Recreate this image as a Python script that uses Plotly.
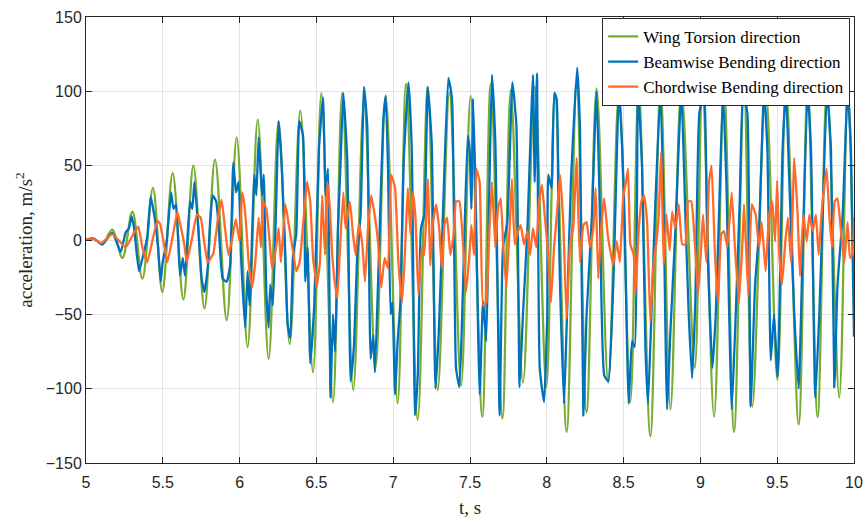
import plotly.graph_objects as go

# ---------------- data ----------------
torsion_t = [5.0, 5.05, 5.106, 5.171, 5.237, 5.302, 5.367, 5.436, 5.497, 5.564, 5.634, 5.699, 5.771,
             5.840, 5.916, 5.981, 6.052, 6.118, 6.189, 6.254, 6.326, 6.395, 6.478, 6.532, 6.608,
             6.668, 6.740, 6.810, 6.885, 6.951, 7.029, 7.084, 7.160, 7.225, 7.290, 7.366, 7.442,
             7.504, 7.580, 7.635, 7.711, 7.765, 7.845, 7.921, 7.997, 8.053, 8.129, 8.194, 8.259,
             8.324, 8.400, 8.470, 8.544, 8.598, 8.674, 8.740, 8.805, 8.876, 8.963, 9.013, 9.089,
             9.154, 9.219, 9.284, 9.338, 9.425, 9.501, 9.557, 9.640, 9.698, 9.763, 9.824, 9.904,
             9.959, 10.0]
torsion_v = [0, 1, -3, 7, -12, 19, -26, 35, -35, 45, -40, 50, -46,
             54, -54, 69, -72, 81, -80, 80, -70, 87, -89, 99, -109,
             99, -101, 93, -86, 97, -110, 105, -121, 103, -101, 99, -98,
             97, -119, 105, -120, 101, -96, 103, -99, 99, -129, 106, -116,
             102, -96, 100, -109, 102, -132, 103, -114, 102, -86, 103, -119,
             102, -129, 103, -112, 102, -94, 103, -124, 102, -119, 103, -106,
             102, -45]

beam_t = [5.0, 5.05, 5.106, 5.171, 5.226, 5.258, 5.28, 5.297, 5.313, 5.345, 5.373, 5.399, 5.421,
          5.447, 5.469, 5.486, 5.499, 5.525, 5.554, 5.569, 5.586, 5.612, 5.630, 5.645, 5.677,
          5.692, 5.706, 5.732, 5.753, 5.771, 5.792, 5.808, 5.825, 5.847, 5.862, 5.890, 5.916,
          5.938, 5.959, 5.977, 5.994, 6.009, 6.037, 6.052, 6.065, 6.096, 6.109, 6.124, 6.146,
          6.157, 6.174, 6.189, 6.200, 6.217, 6.239, 6.254, 6.276, 6.298, 6.313, 6.330, 6.348,
          6.369, 6.389, 6.413, 6.428, 6.443, 6.460, 6.486, 6.517, 6.543, 6.560, 6.575, 6.592,
          6.608, 6.622, 6.640, 6.658, 6.675, 6.701, 6.723, 6.744, 6.766, 6.788, 6.810, 6.831,
          6.853, 6.870, 6.881, 6.907, 6.935, 6.951, 6.966, 6.983, 6.995, 7.012, 7.029, 7.047,
          7.068, 7.099, 7.121, 7.142, 7.160, 7.181, 7.203, 7.225, 7.251, 7.275, 7.296, 7.322,
          7.359, 7.383, 7.409, 7.431, 7.453, 7.485, 7.498, 7.509, 7.520, 7.535, 7.563, 7.585,
          7.606, 7.628, 7.643, 7.665, 7.693, 7.715, 7.743, 7.776, 7.802, 7.823, 7.845, 7.873,
          7.910, 7.921, 7.936, 7.954, 7.982, 8.003, 8.010, 8.031, 8.049, 8.064, 8.075, 8.086,
          8.112, 8.129, 8.157, 8.198, 8.216, 8.238, 8.259, 8.292, 8.324, 8.346, 8.374, 8.400,
          8.433, 8.470, 8.491, 8.505, 8.533, 8.555, 8.572, 8.594, 8.620, 8.642, 8.659, 8.681,
          8.707, 8.740, 8.761, 8.783, 8.805, 8.837, 8.876, 8.902, 8.924, 8.946, 8.967, 8.993,
          9.024, 9.045, 9.078, 9.100, 9.121, 9.147, 9.169, 9.204, 9.230, 9.256, 9.277, 9.306,
          9.327, 9.356, 9.382, 9.414, 9.436, 9.458, 9.479, 9.503, 9.535, 9.557, 9.579, 9.611,
          9.640, 9.666, 9.698, 9.720, 9.748, 9.774, 9.796, 9.824, 9.850, 9.872, 9.893, 9.926,
          9.959, 9.980, 10.0]
beam_v = [0, 1, -3, 5, -8, 5, 8, 16, 8, -21, -10, 2, 29,
          15, -5, -28, -15, -1, 32, 21, 24, -24, -12, -24, 26,
          21, 39, 6, -26, -35, -19, 12, 30, 26, 12, -26, -28,
          -17, 52, 32, 39, -10, -59, -21, -44, 44, 30, 69, 30,
          44, -35, -59, -30, -44, 28, 80, 46, -10, -57, -66, -10,
          4, 80, 70, -28, -5, -83, -44, 62, 96, 30, 48, -106,
          -50, -75, 6, 54, 99, 54, -95, -72, -10, 17, 103, 77,
          -80, -64, -89, -10, 80, 97, 50, -50, -42, -104, -68, -41,
          52, 106, 61, -118, -91, 8, 17, 103, 65, -100, -64, 12,
          109, 95, -86, -99, -37, 70, 60, 21, 95, 39, -104, -41,
          -68, 46, 111, 65, -118, -5, 12, 106, 77, -99, -50, 6,
          111, 39, 112, -86, -109, -50, 44, 35, 99, 95, 26, -30,
          -110, -59, 39, 116, 75, -118, -50, 12, 100, 17, -91, -95,
          -30, 100, 61, 20, -110, -68, -72, 100, 50, -72, -110, -50,
          26, 100, 17, -114, -61, 6, 100, 17, -50, -93, -41, 85,
          100, 0, -86, -50, 17, 100, 39, -114, -50, 26, 100, 85,
          -112, -30, 6, 100, 61, -81, -50, -92, 61, 100, 39, -50,
          -100, -5, 100, 61, -106, -50, 17, 100, 61, -99, -30, 17,
          100, 61, -65]

chord_t = [5.0, 5.04, 5.10, 5.171, 5.258, 5.313, 5.341, 5.367, 5.399, 5.464, 5.482, 5.508, 5.53,
           5.569, 5.595, 5.619, 5.640, 5.656, 5.692, 5.721, 5.747, 5.764, 5.792, 5.829, 5.862,
           5.883, 5.905, 5.927, 5.949, 5.975, 6.0, 6.016, 6.031, 6.044, 6.059, 6.081, 6.102,
           6.124, 6.139, 6.152, 6.174, 6.194, 6.211, 6.233, 6.254, 6.269, 6.298, 6.319, 6.341,
           6.369, 6.391, 6.413, 6.439, 6.460, 6.478, 6.493, 6.501, 6.523, 6.538, 6.556, 6.571,
           6.588, 6.603, 6.619, 6.636, 6.653, 6.675, 6.690, 6.718, 6.738, 6.755, 6.777, 6.799,
           6.816, 6.836, 6.857, 6.879, 6.901, 6.922, 6.944, 6.966, 6.987, 7.012, 7.034, 7.058,
           7.077, 7.095, 7.112, 7.127, 7.144, 7.164, 7.186, 7.203, 7.225, 7.242, 7.257, 7.279,
           7.301, 7.316, 7.333, 7.351, 7.372, 7.394, 7.409, 7.431, 7.459, 7.474, 7.496, 7.509,
           7.526, 7.541, 7.563, 7.585, 7.606, 7.622, 7.643, 7.665, 7.682, 7.700, 7.717, 7.737,
           7.758, 7.773, 7.791, 7.813, 7.830, 7.852, 7.873, 7.891, 7.910, 7.932, 7.949, 7.969,
           7.986, 8.005, 8.027, 8.047, 8.064, 8.086, 8.107, 8.129, 8.151, 8.172, 8.194, 8.216,
           8.238, 8.259, 8.281, 8.303, 8.318, 8.335, 8.357, 8.374, 8.396, 8.418, 8.433, 8.455,
           8.476, 8.498, 8.512, 8.529, 8.544, 8.566, 8.577, 8.598, 8.616, 8.633, 8.653, 8.674,
           8.696, 8.714, 8.729, 8.744, 8.761, 8.779, 8.800, 8.816, 8.837, 8.859, 8.881, 8.902,
           8.920, 8.941, 8.963, 8.985, 9.006, 9.017, 9.039, 9.056, 9.073, 9.095, 9.115, 9.136,
           9.154, 9.175, 9.204, 9.225, 9.251, 9.273, 9.284, 9.312, 9.334, 9.360, 9.382, 9.399,
           9.425, 9.447, 9.468, 9.486, 9.500, 9.514, 9.531, 9.553, 9.570, 9.590, 9.611, 9.633,
           9.648, 9.670, 9.692, 9.709, 9.731, 9.752, 9.770, 9.791, 9.822, 9.839, 9.857, 9.874,
           9.893, 9.915, 9.937, 9.958, 9.974, 9.991, 10.0]
chord_v = [0, 1, -2, 4, -5, 5, 9, -5, -15, 13, 11, -3, -15,
           5, 19, 8, -3, -15, 2, 17, 15, 3, -15, -9, 17,
           27, 8, -10, -1, 14, -1, 32, 24, 8, -15, -32, -15,
           15, -5, 26, 21, 1, -19, -8, 8, -15, 24, 11, -3,
           -21, -15, 10, 39, 26, -12, -24, -32, -15, 30, -10, 39,
           21, -10, -28, -39, -7, 32, 8, 26, 4, -10, 11, -3,
           -28, 8, 30, 17, -1, -32, -12, -19, 44, 35, -15, -42,
           -7, 35, 4, 32, 17, -37, -5, -10, 41, -17, 10, 24,
           6, -19, 10, 15, -10, 4, 26, 26, -10, -35, -10, 10,
           -10, 48, 39, -44, -42, -3, 39, -5, 21, 28, -5, -32,
           8, 41, -3, 6, 10, -3, 6, -10, 8, -5, 26, 37,
           17, -5, -42, -5, 15, 44, 12, -53, -3, 8, 55, -15,
           10, 12, -5, 8, 35, -26, 12, 28, 4, -10, -17, -1,
           -15, 30, 37, 48, -3, -10, -37, 6, 26, 30, 12, -55,
           -15, -1, 17, 59, -17, 17, -7, 19, 8, 24, -3, -3,
           26, 26, -1, -37, -3, 17, -15, 39, 50, -10, -42, 4,
           6, -5, 32, -5, -42, -3, 24, -37, 24, 17, -5, 12,
           -21, 17, 26, -1, 40, -10, -30, -1, 15, -15, 55, 17,
           -24, 17, -1, 17, 6, 17, -10, 21, 48, 17, -5, 26,
           28, 6, -15, 12, -12, -10, 15]

series_names = ["Wing Torsion direction", "Beamwise Bending direction", "Chordwise Bending direction"]
series_colors = ["#77AC30", "#0072BD", "#FF6929"]

x_ticks = [5, 5.5, 6, 6.5, 7, 7.5, 8, 8.5, 9, 9.5, 10]
x_tick_text = ["5", "5.5", "6", "6.5", "7", "7.5", "8", "8.5", "9", "9.5", "10"]
y_ticks = [-150, -100, -50, 0, 50, 100, 150]

# ---------------- figure ----------------
fig = go.Figure()
data = [(torsion_t, torsion_v, 1.0), (beam_t, beam_v, 0.45), (chord_t, chord_v, 0.35)]
for (tt, vv, sm), name, col in zip(data, series_names, series_colors):
    fig.add_trace(go.Scatter(x=tt, y=vv, mode="lines", name=name,
                             line=dict(color=col, width=2.3, shape="spline", smoothing=sm)))

axis_common = dict(showline=True, linecolor="#262626", linewidth=1, mirror="ticks",
                   ticks="inside", ticklen=6, tickcolor="#262626", tickwidth=1,
                   showgrid=True, gridcolor="#E3E3E3", gridwidth=1, zeroline=False,
                   automargin=False,
                   tickfont=dict(family="Liberation Sans, Arial", size=16, color="#262626"))

fig.update_xaxes(range=[5, 10], tickvals=x_ticks, ticktext=x_tick_text,
                 ticklabelstandoff=5,
                 title=dict(text="t, s", font=dict(family="Liberation Serif, Times New Roman",
                                                   size=19, color="#262626"), standoff=10),
                 **axis_common)
fig.update_yaxes(range=[-150, 150], tickvals=y_ticks,
                 title=dict(text="acceleration, m/s<sup>2</sup>",
                            font=dict(family="Liberation Serif, Times New Roman", size=19,
                                      color="#262626"), standoff=8),
                 **axis_common)

fig.update_layout(
    width=866, height=524,
    margin=dict(l=86, r=12, t=17, b=61),
    plot_bgcolor="white", paper_bgcolor="white",
    legend=dict(x=0.995, y=0.998, xanchor="right", yanchor="top",
                bgcolor="white", bordercolor="#262626", borderwidth=1,
                font=dict(family="Liberation Serif, Times New Roman", size=17, color="#000000"),
                tracegroupgap=0, itemwidth=30),
    showlegend=True,
)

fig.write_html("out.html")
